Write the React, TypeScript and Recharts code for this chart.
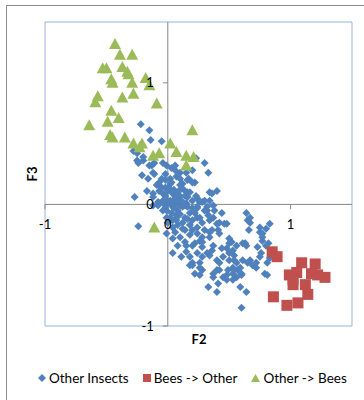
import React from 'react';
import {
  ScatterChart,
  Scatter,
  XAxis,
  YAxis,
  ReferenceArea,
  ReferenceLine,
  ReferenceDot,
  Legend
} from 'recharts';

// F2 / F3 scores
const otherInsects: [number, number][] = [
  [-0.22, 0.66], [-0.15, 0.61], [-0.14, 0.53], [-0.05, 0.52], [-0.28, 0.44], [-0.25, 0.42],
  [-0.25, 0.36], [-0.24, 0.34], [-0.2, 0.36], [-0.2, 0.39], [-0.15, 0.32], [-0.13, 0.32],
  [-0.11, 0.34], [-0.04, 0.34], [-0.01, 0.32], [0.03, 0.3], [0.06, 0.32], [-0.12, 0.26],
  [-0.21, 0.24], [-0.16, 0.21], [-0.11, 0.25], [-0.02, 0.25], [0.06, 0.28], [0.07, 0.23],
  [0.1, 0.26], [0.15, 0.26], [0.17, 0.21], [0.2, 0.28], [0.22, 0.18], [0.23, 0.38],
  [0.3, 0.34], [0.33, 0.26],
  [-0.27, 0.06], [-0.17, 0.11], [-0.12, 0.09], [-0.12, 0.06], [-0.07, 0.11], [-0.04, 0.09],
  [-0.02, 0.14], [0.03, 0.18], [0.02, 0.17], [-0.07, 0.18], [0.12, 0.17], [0.2, 0.18],
  [0.1, 0.16], [0.16, 0.2], [0.11, 0.13], [0.04, 0.09], [0.1, 0.07], [0.16, 0.1],
  [0.18, 0.1], [0.16, 0.06], [0.23, 0.07], [0.24, 0.05], [0.28, 0.02], [0.34, 0.1],
  [0.36, 0.09], [0.4, 0.11], [0.3, 0.03], [0.34, 0.03], [-0.12, -0.01], [-0.08, 0.02],
  [-0.07, 0.01], [-0.02, -0.01], [-0.02, -0.03], [0.02, 0.03], [0.02, 0.02], [0.07, 0.01],
  [0.08, 0.05], [0.1, -0.01], [0.12, -0.02], [0.15, 0.01], [0.16, -0.02], [0.24, -0.02],
  [0.24, -0.03], [0.26, 0.02], [0.32, -0.02], [0.32, -0.05], [0.3, -0.05], [0.37, -0.01],
  [0.38, -0.05], [0.44, -0.07], [-0.08, -0.01], [-0.04, -0.05], [-0.01, -0.11], [0.02, -0.11],
  [0.07, -0.09], [0.07, -0.11], [0.07, -0.13], [0.12, -0.15], [0.14, -0.11], [0.18, -0.07],
  [0.2, -0.13], [0.24, -0.11], [0.26, -0.11], [0.28, -0.15], [0.33, -0.09], [0.34, -0.13],
  [0.37, -0.11], [0.4, -0.16], [0.42, -0.15], [0.46, -0.16], [0.48, -0.16], [-0.24, -0.18],
  [0.04, -0.19], [0.12, -0.2], [0.24, -0.19], [0.34, -0.23], [0.36, -0.21], [0.41, -0.21],
  [0.42, -0.24], [0.5, -0.28], [-0.01, -0.24], [0.04, -0.28], [0.1, -0.27], [0.18, -0.25],
  [0.24, -0.24], [0.28, -0.27], [0.34, -0.27],
  [-0.02, 0.07], [0.0, 0.03], [0.03, -0.01], [0.06, 0.07], [0.0, 0.11], [-0.04, 0.03],
  [0.08, -0.05], [0.14, -0.01], [0.03, -0.07], [0.0, -0.15], [0.08, -0.17], [0.18, -0.17],
  [0.22, -0.07], [0.14, 0.07], [0.1, 0.21], [0.02, 0.21], [-0.02, 0.2], [-0.09, 0.16],
  [-0.05, 0.21], [0.14, -0.21], [0.26, -0.3], [0.14, -0.31], [0.08, -0.34], [0.3, -0.21],
  [0.01, 0.14], [0.05, 0.12], [0.08, 0.1], [0.05, 0.04], [0.11, 0.03], [-0.01, -0.05],
  [0.05, -0.03], [0.1, -0.08], [0.04, -0.13], [0.16, -0.12], [0.2, -0.03], [0.2, 0.03],
  [0.13, 0.12], [-0.05, 0.14], [0.06, -0.23], [0.2, -0.21],
  [0.64, -0.07], [0.65, -0.13], [0.67, -0.11], [0.67, -0.15], [0.66, -0.21], [0.83, -0.16],
  [0.8, -0.2], [0.75, -0.19], [0.75, -0.23], [0.77, -0.24], [0.77, -0.27], [0.77, -0.3],
  [0.82, -0.32], [0.73, -0.35], [0.63, -0.32], [0.52, -0.31], [0.56, -0.34], [0.61, -0.32],
  [0.64, -0.34],
  [0.04, -0.4], [0.11, -0.43], [0.15, -0.39], [0.15, -0.34], [0.18, -0.43], [0.2, -0.34],
  [0.22, -0.32], [0.2, -0.48], [0.2, -0.5], [0.24, -0.4], [0.26, -0.48], [0.28, -0.31],
  [0.28, -0.35], [0.28, -0.43], [0.32, -0.4], [0.34, -0.42], [0.36, -0.38], [0.37, -0.34],
  [0.4, -0.46], [0.42, -0.48], [0.44, -0.36], [0.45, -0.43], [0.48, -0.36], [0.5, -0.32],
  [0.5, -0.4], [0.5, -0.46], [0.53, -0.52], [0.54, -0.46], [0.59, -0.52], [0.48, -0.58],
  [0.6, -0.57], [0.72, -0.52], [0.67, -0.46], [0.8, -0.34], [0.76, -0.4], [0.75, -0.43],
  [0.72, -0.48], [0.69, -0.5], [0.79, -0.57], [0.81, -0.58], [0.83, -0.44], [0.81, -0.48],
  [0.53, -0.38], [0.54, -0.42], [0.56, -0.48], [0.61, -0.46], [0.65, -0.48], [0.57, -0.54],
  [0.18, -0.5], [0.22, -0.57], [0.26, -0.52], [0.26, -0.58], [0.28, -0.54], [0.37, -0.6],
  [0.37, -0.57], [0.4, -0.54], [0.42, -0.54], [0.45, -0.6], [0.48, -0.62], [0.49, -0.54],
  [0.53, -0.57], [0.54, -0.54], [0.56, -0.6], [0.6, -0.58], [0.41, -0.65], [0.53, -0.62],
  [0.33, -0.68], [0.4, -0.72], [0.59, -0.68], [0.64, -0.72], [0.6, -0.85]
];

const beesToOther: [number, number][] = [
  [0.85, -0.39], [0.89, -0.43], [1.09, -0.48], [1.2, -0.49], [0.99, -0.58], [1.05, -0.56],
  [1.17, -0.57], [1.22, -0.58], [1.28, -0.6], [1.02, -0.66], [1.12, -0.66], [1.14, -0.74],
  [0.86, -0.76], [0.97, -0.83], [1.06, -0.81], [1.02, -0.62]
];

const otherToBees: [number, number][] = [
  [-0.43, 1.32], [-0.39, 1.23], [-0.29, 1.23], [-0.53, 1.12], [-0.5, 1.12], [-0.37, 1.13],
  [-0.33, 1.09], [-0.32, 1.07], [-0.46, 1.03], [-0.45, 1.0], [-0.29, 1.0], [-0.18, 1.04],
  [-0.15, 0.98], [-0.28, 0.91], [-0.37, 0.88], [-0.57, 0.89], [-0.59, 0.84], [-0.09, 0.83],
  [-0.46, 0.77], [-0.4, 0.71], [-0.49, 0.68], [-0.64, 0.65], [-0.47, 0.57], [-0.45, 0.55],
  [-0.35, 0.55], [-0.28, 0.5], [-0.21, 0.5], [-0.23, 0.47], [-0.12, 0.4], [-0.07, 0.42],
  [0.02, 0.5], [0.07, 0.43], [0.15, 0.4], [0.21, 0.39], [0.2, 0.61], [0.15, 0.32],
  [-0.11, -0.19]
];

const xTicks = [-1, 0, 1];
const yTicks = [-1, 0, 1];

const BLUE = '#4F81BD';
const RED = '#C0504D';
const GREEN = '#9BBB59';
const AXIS = '#868686';
const FONT = 'Lato, "Open Sans", sans-serif';

const toPoints = (rows: [number, number][]) => rows.map(([x, y]) => ({ x, y }));

const Diamond = (p: any) => {
  const { cx, cy } = p;
  const r = 4;
  return <polygon points={`${cx},${cy - r} ${cx + r},${cy} ${cx},${cy + r} ${cx - r},${cy}`} fill={BLUE} />;
};

const Square = (p: any) => {
  const { cx, cy } = p;
  const h = 5.5;
  return <rect x={cx - h} y={cy - h} width={h * 2} height={h * 2} fill={RED} />;
};

const Triangle = (p: any) => {
  const { cx, cy } = p;
  return <polygon points={`${cx},${cy - 6} ${cx + 6},${cy + 5} ${cx - 6},${cy + 5}`} fill={GREEN} />;
};

const LegendBox = () => (
  <div style={{ display: 'flex', alignItems: 'center', fontFamily: FONT, fontSize: 13.5, color: '#000' }}>
    <svg width={8} height={8} style={{ marginRight: 3 }}>
      <polygon points="4,0 8,4 4,8 0,4" fill={BLUE} />
    </svg>
    <span style={{ marginRight: 14 }}>Other Insects</span>
    <svg width={8} height={8} style={{ marginRight: 3 }}>
      <rect width={8} height={8} fill={RED} />
    </svg>
    <span style={{ marginRight: 14 }}>Bees -&gt; Other</span>
    <svg width={9} height={8} style={{ marginRight: 3 }}>
      <polygon points="4.5,0 9,8 0,8" fill={GREEN} />
    </svg>
    <span>Other -&gt; Bees</span>
  </div>
);

export default function App() {
  return (
    <div style={{ position: 'absolute', left: 0, top: 0, width: 364, height: 400, overflow: 'hidden', background: '#fff' }}>
      <div style={{ position: 'absolute', left: 6, top: 5, width: 420, height: 440, border: '1px solid #8c8c8c' }} />
      <div style={{ position: 'absolute', left: 0, top: 0 }}>
        <ScatterChart width={364} height={400} margin={{ top: 22, right: 12, bottom: 74, left: 45 }}>
          <XAxis type="number" dataKey="x" domain={[-1, 1.5]} hide />
          <YAxis type="number" dataKey="y" domain={[-1, 1.5]} hide />
          <ReferenceArea x1={-1} x2={1.5} y1={-1} y2={1.5} fill="none" stroke="#95B3D7" strokeWidth={1} />
          <ReferenceLine x={0} stroke={AXIS} />
          <ReferenceLine y={0} stroke={AXIS} />
          {xTicks.map((v) => (
            <ReferenceLine key={`xt${v}`} segment={[{ x: v, y: 0 }, { x: v, y: -0.04 }]} stroke={AXIS} />
          ))}
          {yTicks.map((v) => (
            <ReferenceLine key={`yt${v}`} segment={[{ x: 0, y: v }, { x: -0.04, y: v }]} stroke={AXIS} />
          ))}
          {xTicks.map((v) => (
            <ReferenceDot
              key={`xl${v}`}
              x={v}
              y={0}
              r={0}
              fill="none"
              stroke="none"
              label={{ value: String(v), position: 'bottom', offset: 15, fill: '#000', fontSize: 13, fontFamily: FONT }}
            />
          ))}
          {yTicks.map((v) => (
            <ReferenceDot
              key={`yl${v}`}
              x={0}
              y={v}
              r={0}
              fill="none"
              stroke="none"
              label={{ value: String(v), position: 'left', offset: 14, fill: '#000', fontSize: 13, fontFamily: FONT }}
            />
          ))}
          <Scatter name="Other Insects" data={toPoints(otherInsects)} shape={Diamond} isAnimationActive={false} />
          <Scatter name="Bees -> Other" data={toPoints(beesToOther)} shape={Square} isAnimationActive={false} />
          <Scatter name="Other -> Bees" data={toPoints(otherToBees)} shape={Triangle} isAnimationActive={false} />
          <Legend
            layout="horizontal"
            verticalAlign="middle"
            align="center"
            wrapperStyle={{ top: 370, left: 38, width: 'auto' }}
            content={() => <LegendBox />}
          />
        </ScatterChart>
      </div>
      <div style={{ position: 'absolute', left: 188, top: 331, width: 22, textAlign: 'center', fontFamily: FONT, fontWeight: 'bold', fontSize: 13 }}>
        F2
      </div>
      <div
        style={{
          position: 'absolute',
          left: 21,
          top: 166,
          width: 22,
          textAlign: 'center',
          fontFamily: FONT,
          fontWeight: 'bold',
          fontSize: 13,
          transform: 'rotate(-90deg)'
        }}
      >
        F3
      </div>
    </div>
  );
}
